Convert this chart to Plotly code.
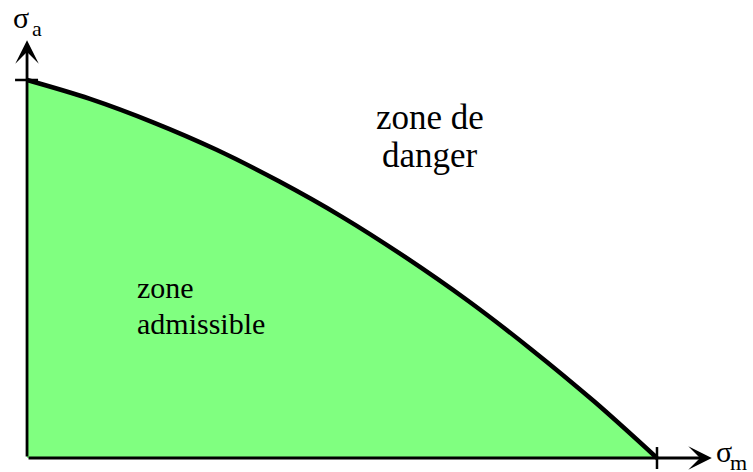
import plotly.graph_objects as go

# normalized mean stress (sigma_m / Su) and alternating stress (sigma_a / Se)
sigma_m = [0.0, 0.1, 0.2, 0.3, 0.4, 0.5, 0.6, 0.7, 0.8, 0.9, 1.0]
sigma_a = [1.0, 0.95, 0.888, 0.816, 0.732, 0.638, 0.532, 0.416, 0.288, 0.15, 0.0]

serif = "Liberation Serif, Times New Roman, serif"

fig = go.Figure()

fig.add_trace(go.Scatter(
    x=sigma_m, y=sigma_a, mode="lines",
    line=dict(color="black", width=4.5, shape="spline"),
    fill="tozeroy", fillcolor="#80ff80",
    hoverinfo="skip", showlegend=False,
))

# axes with arrows
axis_arrow = dict(showarrow=True, arrowhead=3, arrowsize=1.4, arrowwidth=2.8,
                  arrowcolor="black", axref="x", ayref="y", text="")
fig.add_annotation(x=0, y=1.105, ax=0, ay=0, **axis_arrow)
fig.add_annotation(x=1.087, y=0, ax=0, ay=0, **axis_arrow)

# tick marks at the ends of the curve
fig.add_shape(type="line", x0=-0.019, x1=0.0175, y0=1, y1=1, line=dict(color="black", width=2.5))
fig.add_shape(type="line", x0=1, x1=1, y0=-0.029, y1=0.029, line=dict(color="black", width=2.5))


def label(x, y, text, size, xanchor):
    fig.add_annotation(x=x, y=y, text=text, xanchor=xanchor, yanchor="middle", showarrow=False,
                       font=dict(family=serif, color="black", size=size))


# axis names: sigma and its subscript as separate texts so the subscript size matches
label(-0.025, 1.166, "σ", 30, "left")
label(0.004, 1.136, "a", 22, "left")
label(1.090, 0.016, "σ", 30, "left")
label(1.113, -0.012, "m", 22, "left")

label(0.64, 0.902, "zone de", 35, "center")
label(0.64, 0.80, "danger", 35, "center")
label(0.171, 0.45, "zone", 30, "left")
label(0.171, 0.357, "admissible", 30, "left")

fig.update_layout(
    width=753, height=472,
    margin=dict(l=0, r=0, t=0, b=0),
    paper_bgcolor="white", plot_bgcolor="white",
    xaxis=dict(range=[-0.0429, 1.1524], visible=False, fixedrange=True),
    yaxis=dict(range=[-0.037, 1.2116], visible=False, fixedrange=True),
    showlegend=False,
)

# drop the default page margin so the figure fills the window exactly
fig.write_html("out.html", config={"displayModeBar": False},
               post_script="document.body.style.margin='0';")
